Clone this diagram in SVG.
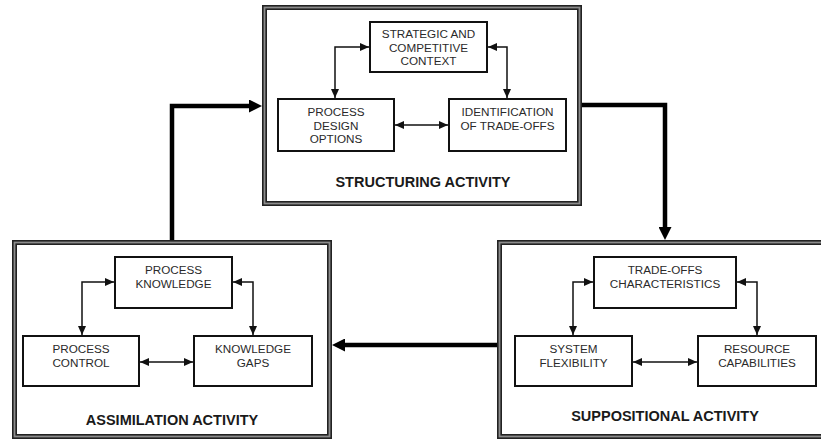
<svg xmlns="http://www.w3.org/2000/svg" width="821" height="439" viewBox="0 0 821 439">
<style>
.frame{fill:#fff;stroke:#222;stroke-width:5}
.frame2{fill:none;stroke:#8c8c8c;stroke-width:1.8}
.box{fill:#fff;stroke:#111;stroke-width:2}
.t{font-family:"Liberation Sans",Arial,sans-serif;font-size:11.7px;fill:#2a2a2a;text-anchor:middle}
.title{font-family:"Liberation Sans",Arial,sans-serif;font-size:14.5px;font-weight:bold;fill:#1a1a1a;text-anchor:middle}
.c{fill:none;stroke:#111;stroke-width:1.5}
.big{fill:none;stroke:#000;stroke-width:4.5}
</style>
<defs>
<marker id="a" markerUnits="userSpaceOnUse" markerWidth="9" markerHeight="8" refX="9" refY="4" orient="auto-start-reverse">
<path d="M0,0 L9,4 L0,8 z" fill="#111"/>
</marker>
<marker id="b" markerUnits="userSpaceOnUse" markerWidth="13" markerHeight="13" refX="2" refY="6.5" orient="auto">
<path d="M0,0 L13,6.5 L0,13 z" fill="#000"/>
</marker>
</defs>
<rect width="821" height="439" fill="#fff"/>

<g id="structuring">
<rect class="frame" x="264.5" y="7.5" width="315" height="196"/>
<rect class="frame2" x="264.5" y="7.5" width="315" height="196"/>
<text class="title" x="423" y="187">STRUCTURING ACTIVITY</text>
</g>
<g id="strategic">
<rect class="box" x="370" y="22" width="117" height="50"/>
<text class="t" x="428.5" y="38">STRATEGIC AND</text>
<text class="t" x="428.5" y="51.5">COMPETITIVE</text>
<text class="t" x="428.5" y="64.5">CONTEXT</text>
</g>
<g id="design">
<rect class="box" x="278" y="99" width="116" height="52"/>
<text class="t" x="336" y="116">PROCESS</text>
<text class="t" x="336" y="129.5">DESIGN</text>
<text class="t" x="336" y="142.5">OPTIONS</text>
</g>
<g id="identification">
<rect class="box" x="449" y="99" width="117" height="52"/>
<text class="t" x="507.5" y="116">IDENTIFICATION</text>
<text class="t" x="507.5" y="130">OF TRADE-OFFS</text>
</g>

<g id="assimilation">
<rect class="frame" x="14.5" y="242.5" width="315" height="194"/>
<rect class="frame2" x="14.5" y="242.5" width="315" height="194"/>
<text class="title" x="172" y="425">ASSIMILATION ACTIVITY</text>
</g>
<g id="knowledge">
<rect class="box" x="115" y="257" width="117" height="51"/>
<text class="t" x="173.5" y="274">PROCESS</text>
<text class="t" x="173.5" y="288">KNOWLEDGE</text>
</g>
<g id="control">
<rect class="box" x="23" y="336" width="116" height="50"/>
<text class="t" x="81" y="353">PROCESS</text>
<text class="t" x="81" y="367">CONTROL</text>
</g>
<g id="gaps">
<rect class="box" x="194" y="336" width="118" height="50"/>
<text class="t" x="253" y="353">KNOWLEDGE</text>
<text class="t" x="253" y="367">GAPS</text>
</g>

<g id="suppositional">
<rect class="frame" x="499.5" y="242.5" width="330" height="194"/>
<rect class="frame2" x="499.5" y="242.5" width="330" height="194"/>
<text class="title" x="665" y="421">SUPPOSITIONAL ACTIVITY</text>
</g>
<g id="characteristics">
<rect class="box" x="594" y="257" width="142" height="51"/>
<text class="t" x="665" y="274">TRADE-OFFS</text>
<text class="t" x="665" y="288">CHARACTERISTICS</text>
</g>
<g id="flexibility">
<rect class="box" x="515" y="336" width="117" height="50"/>
<text class="t" x="573.5" y="353">SYSTEM</text>
<text class="t" x="573.5" y="367">FLEXIBILITY</text>
</g>
<g id="resources">
<rect class="box" x="698" y="336" width="118" height="50"/>
<text class="t" x="757" y="353">RESOURCE</text>
<text class="t" x="757" y="367">CAPABILITIES</text>
</g>

<g id="connectors">
<path class="c" d="M369,47 H335 V98" marker-start="url(#a)" marker-end="url(#a)"/>
<path class="c" d="M488,47 H507 V98" marker-start="url(#a)" marker-end="url(#a)"/>
<path class="c" d="M395,125 H448" marker-start="url(#a)" marker-end="url(#a)"/>
<path class="c" d="M114,282 H82 V335" marker-start="url(#a)" marker-end="url(#a)"/>
<path class="c" d="M233,282 H253 V335" marker-start="url(#a)" marker-end="url(#a)"/>
<path class="c" d="M140,362 H193" marker-start="url(#a)" marker-end="url(#a)"/>
<path class="c" d="M593,282 H573 V335" marker-start="url(#a)" marker-end="url(#a)"/>
<path class="c" d="M737,282 H757 V335" marker-start="url(#a)" marker-end="url(#a)"/>
<path class="c" d="M633,362 H697" marker-start="url(#a)" marker-end="url(#a)"/>
<path class="big" d="M172,240 V106 H251" marker-end="url(#b)"/>
<path class="big" d="M582,105 H665 V229" marker-end="url(#b)"/>
<path class="big" d="M497,345 H343" marker-end="url(#b)"/>
</g>
</svg>
